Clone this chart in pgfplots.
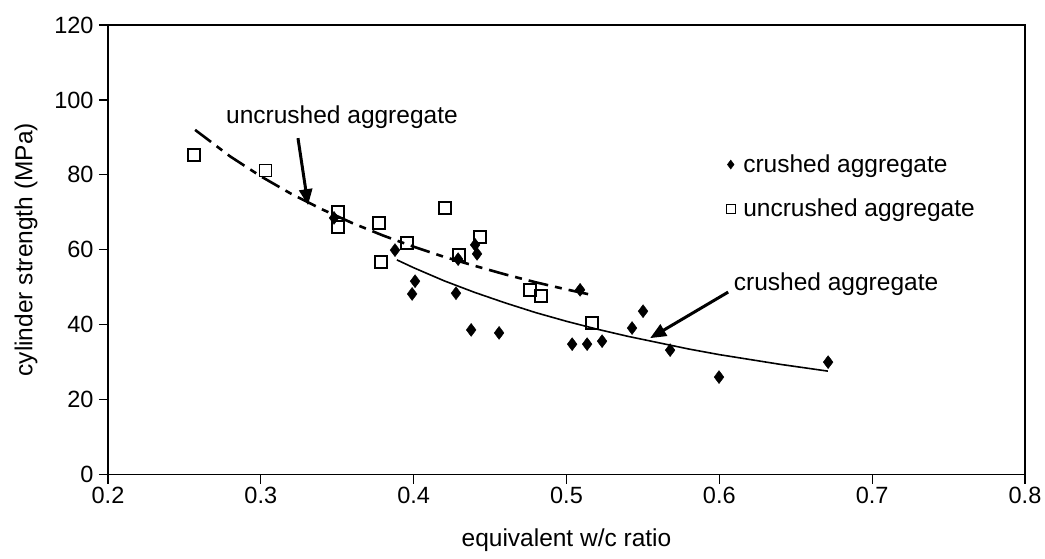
\documentclass[border=0pt]{standalone}
\usepackage{pgfplots}
\pgfplotsset{compat=1.18}
\usepackage{fontspec}
\setmainfont{Liberation Sans}
\usetikzlibrary{arrows.meta}

\begin{document}
\begin{tikzpicture}
\begin{axis}[
  scale only axis, width=917pt, height=449.5pt,
  xmin=0.2, xmax=0.8, ymin=0, ymax=120,
  xtick={0.2,0.3,0.4,0.5,0.6,0.7,0.8},
  ytick={0,20,40,60,80,100,120},
  tick align=outside, tick pos=left,
  major tick length=9pt,
  every tick/.style={line width=1.2pt, black},
  axis line style={line width=1.3pt},
  /pgf/number format/assume math mode=true,
  xticklabel style={/pgf/number format/.cd, fixed, fixed zerofill, precision=1},
  tick label style={font=\fontsize{23.5}{27}\selectfont},
  yticklabel style={xshift=-2pt},
  xlabel={equivalent w/c ratio},
  ylabel={cylinder strength (MPa)},
  label style={font=\fontsize{24.5}{28}\selectfont},
  xlabel style={yshift=-18pt},
  ylabel style={yshift=10pt},
  legend style={draw=none, fill=none, font=\fontsize{24.5}{28}\selectfont,
    at={(axis cs:0.6044,85.9)}, anchor=north west, row sep=21pt,
    /tikz/every odd column/.append style={column sep=6pt},
    inner sep=0pt},
  legend cell align=left,
]
% crushed aggregate
\addplot[only marks, mark=diamond*, mark size=6.5pt, black, fill=black,
  legend image code/.code={\draw[black, fill=black, mark size=4.5pt] plot[mark=diamond*] coordinates {(0.3cm,0cm)};}] coordinates {
(0.3479,68.5) (0.3878,59.9) (0.4009,51.6) (0.3990,48.2) (0.4277,48.4)
(0.4291,57.5) (0.4402,61.3) (0.4415,58.9) (0.4376,38.6) (0.4559,37.8)
(0.5089,49.3) (0.5037,34.8) (0.5135,34.8) (0.5233,35.6) (0.5429,39.1)
(0.5501,43.6) (0.5678,33.2) (0.5998,26.0) (0.6712,30.0)
};
\addlegendentry{crushed aggregate}
% uncrushed aggregate
\addplot[only marks, mark=square, mark size=6pt, black, line width=1.5pt,
  legend image code/.code={\draw[black, line width=1.4pt, mark size=4.5pt] plot[mark=square] coordinates {(0.3cm,0cm)};}] coordinates {
(0.2563,85.3) (0.3030,81.2) (0.3505,70.1) (0.3505,66.1) (0.3774,67.1)
(0.3787,56.7) (0.3957,61.8) (0.4206,71.1) (0.4435,63.4) (0.4297,58.6)
(0.4762,49.3) (0.4834,47.7) (0.5168,40.4)
};
\addlegendentry{uncrushed aggregate}
% fit uncrushed (dashed)
\addplot[forget plot, black, line width=2.6pt, dash pattern=on 20pt off 7pt on 7pt off 7pt] coordinates {
(0.257,92.0) (0.28,84.9) (0.30,79.6) (0.32,74.9) (0.34,70.8) (0.36,67.1)
(0.38,63.8) (0.40,60.8) (0.42,58.1) (0.44,55.7) (0.46,53.4) (0.48,51.3)
(0.50,49.4) (0.517,47.9)
};
% fit crushed (solid)
\addplot[forget plot, black, line width=1.6pt] coordinates {
(0.389,57.3) (0.40,55.2) (0.42,51.7) (0.44,48.6) (0.46,45.8) (0.48,43.2)
(0.50,40.9) (0.52,38.8) (0.54,36.9) (0.56,35.2) (0.58,33.5) (0.60,32.0)
(0.62,30.7) (0.64,29.4) (0.671,27.6)
};
\node[font=\fontsize{24.5}{28}\selectfont] at (axis cs:0.3531,95.4) {uncrushed aggregate};
\node[font=\fontsize{24.5}{28}\selectfont] at (axis cs:0.6764,50.9) {crushed aggregate};
\draw[line width=3pt, -{Triangle[length=16pt,width=13pt]}] (axis cs:0.3243,89.8) -- (axis cs:0.3309,71.9);
\draw[line width=3pt, -{Triangle[length=16pt,width=13pt]}] (axis cs:0.6058,48.7) -- (axis cs:0.5547,36.4);
\end{axis}
\path (-108pt,-83.5pt) rectangle (937pt,474.5pt);
\end{tikzpicture}
\end{document}
